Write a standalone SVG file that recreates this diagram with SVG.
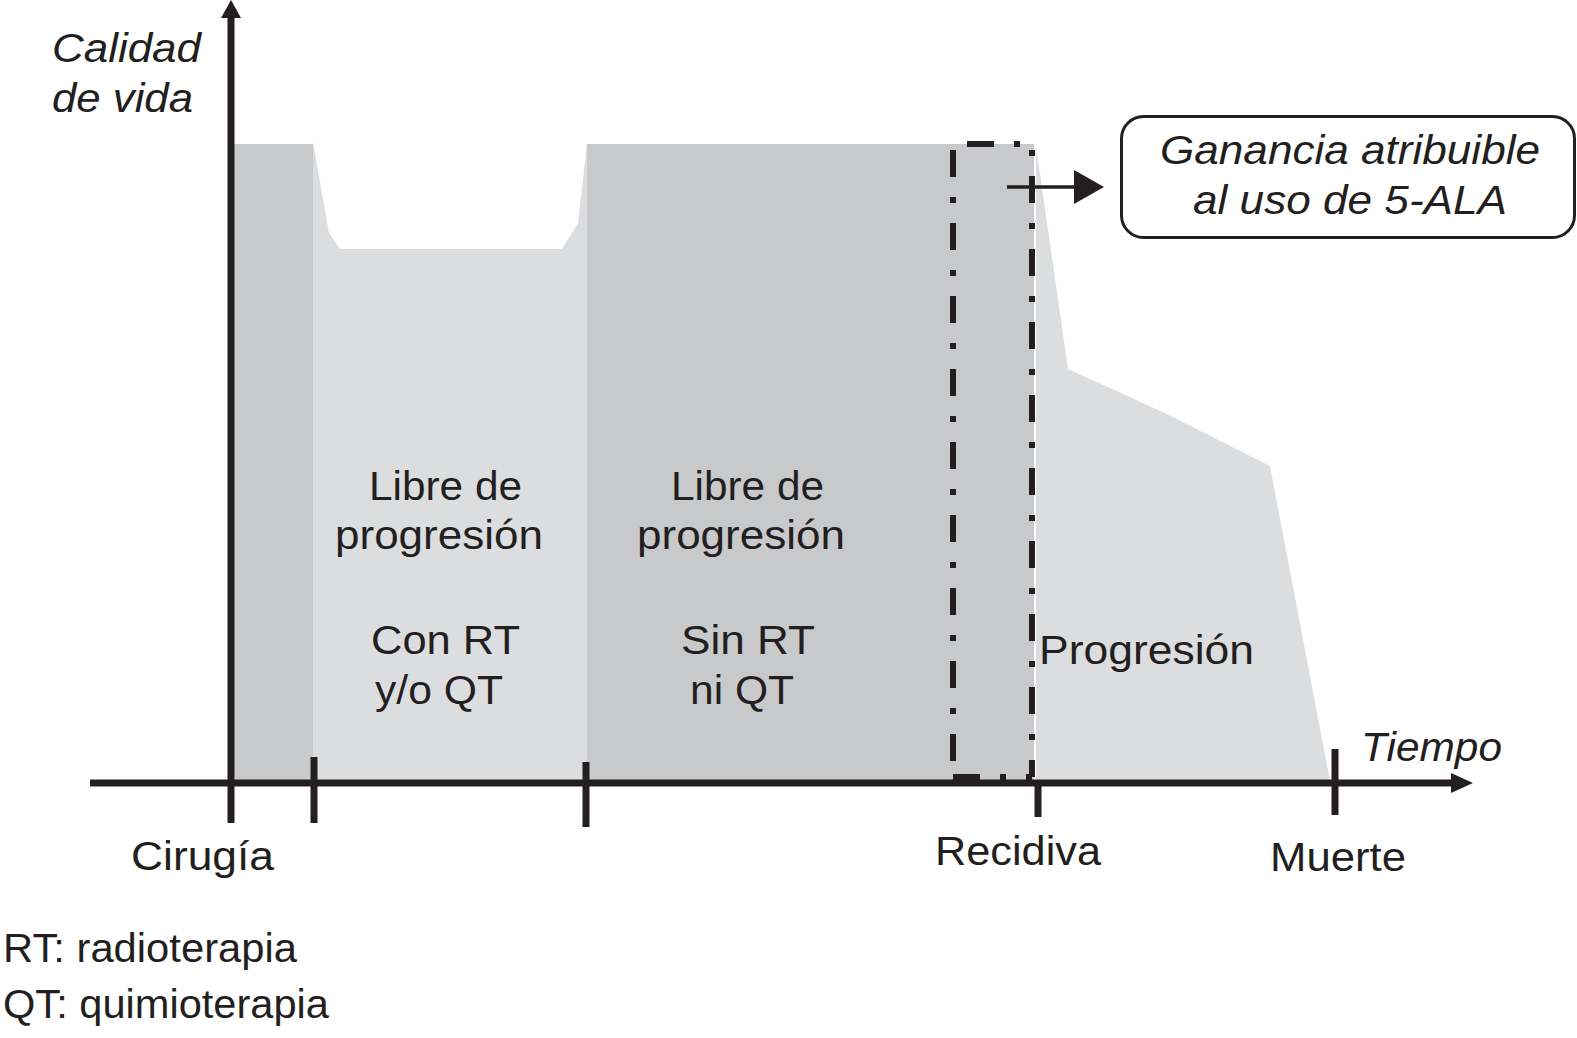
<svg xmlns="http://www.w3.org/2000/svg" width="1577" height="1038" viewBox="0 0 1577 1038">
<style>
.t{font-family:"Liberation Sans",Arial,sans-serif;font-size:40px;fill:#231f20}
.i{font-style:italic}
.ax{stroke:#231f20;stroke-width:7;fill:none}
.dd{stroke:#231f20;stroke-width:6;fill:none;stroke-dasharray:27 20 6 20}
</style>
<rect width="1577" height="1038" fill="#fff"/>
<g id="regions">
<rect x="232" y="144" width="81" height="639" fill="#c8c9cb"/>
<polygon points="313,142 329,233 340,249 562,249 578,223 587,144 587,783 313,783" fill="#dcdddf"/>
<rect x="587" y="144" width="447" height="639" fill="#c8c9cb"/>
<polygon points="1036,146 1068,369 1167,414 1270,466 1330,781 1036,781" fill="#dcdddf"/>
</g>
<g id="gain-box">
<line class="dd" x1="953" y1="150" x2="953" y2="777"/>
<line class="dd" x1="1032" y1="150" x2="1032" y2="777" stroke-dashoffset="47"/>
<line class="dd" x1="953" y1="144" x2="1032" y2="144" stroke-dashoffset="-14" stroke-width="5"/>
<line class="dd" x1="953" y1="777" x2="1032" y2="777" stroke-width="5"/>
</g>
<g id="connectors">
<line class="ax" x1="231" y1="16" x2="231" y2="823"/>
<polygon points="231,0 221,18 241,18" fill="#231f20"/>
<line class="ax" x1="90" y1="783" x2="1452" y2="783" stroke-width="6"/>
<polygon points="1473,783 1451,773 1451,793" fill="#231f20"/>
<line class="ax" x1="314" y1="757" x2="314" y2="823" stroke-width="6"/>
<line class="ax" x1="586" y1="762" x2="586" y2="827" stroke-width="6"/>
<line class="ax" x1="1038" y1="783" x2="1038" y2="817" stroke-width="6"/>
<line class="ax" x1="1335" y1="749" x2="1335" y2="815" stroke-width="6"/>
<line x1="1007" y1="187" x2="1076" y2="187" stroke="#231f20" stroke-width="3.5"/>
<polygon points="1104,187 1074,170 1074,204" fill="#231f20"/>
</g>
<g id="node-ganancia">
<rect x="1121.5" y="116.5" width="453" height="121" rx="22" fill="#fff" stroke="#231f20" stroke-width="3"/>
<text class="t i" x="1160" y="164" textLength="380" lengthAdjust="spacingAndGlyphs">Ganancia atribuible</text>
<text class="t i" x="1193" y="214" textLength="314" lengthAdjust="spacingAndGlyphs">al uso de 5-ALA</text>
</g>
<g id="labels">
<text class="t i" x="52" y="62" textLength="149" lengthAdjust="spacingAndGlyphs">Calidad</text>
<text class="t i" x="52" y="112" textLength="141" lengthAdjust="spacingAndGlyphs">de vida</text>
<text class="t" x="369" y="500" textLength="153" lengthAdjust="spacingAndGlyphs">Libre de</text>
<text class="t" x="335" y="549" textLength="208" lengthAdjust="spacingAndGlyphs">progresión</text>
<text class="t" x="371" y="654" textLength="149" lengthAdjust="spacingAndGlyphs">Con RT</text>
<text class="t" x="375" y="704" textLength="128" lengthAdjust="spacingAndGlyphs">y/o QT</text>
<text class="t" x="671" y="500" textLength="153" lengthAdjust="spacingAndGlyphs">Libre de</text>
<text class="t" x="637" y="549" textLength="208" lengthAdjust="spacingAndGlyphs">progresión</text>
<text class="t" x="681" y="654" textLength="134" lengthAdjust="spacingAndGlyphs">Sin RT</text>
<text class="t" x="690" y="704" textLength="104" lengthAdjust="spacingAndGlyphs">ni QT</text>
<text class="t" x="1039" y="664" textLength="215" lengthAdjust="spacingAndGlyphs">Progresión</text>
<text class="t i" x="1361" y="761" textLength="141" lengthAdjust="spacingAndGlyphs">Tiempo</text>
<text class="t" x="131" y="870" textLength="143" lengthAdjust="spacingAndGlyphs">Cirugía</text>
<text class="t" x="935" y="865" textLength="166" lengthAdjust="spacingAndGlyphs">Recidiva</text>
<text class="t" x="1270" y="871" textLength="136" lengthAdjust="spacingAndGlyphs">Muerte</text>
<text class="t" x="3" y="962" textLength="294" lengthAdjust="spacingAndGlyphs">RT: radioterapia</text>
<text class="t" x="3" y="1018" textLength="326" lengthAdjust="spacingAndGlyphs">QT: quimioterapia</text>
</g>
</svg>
